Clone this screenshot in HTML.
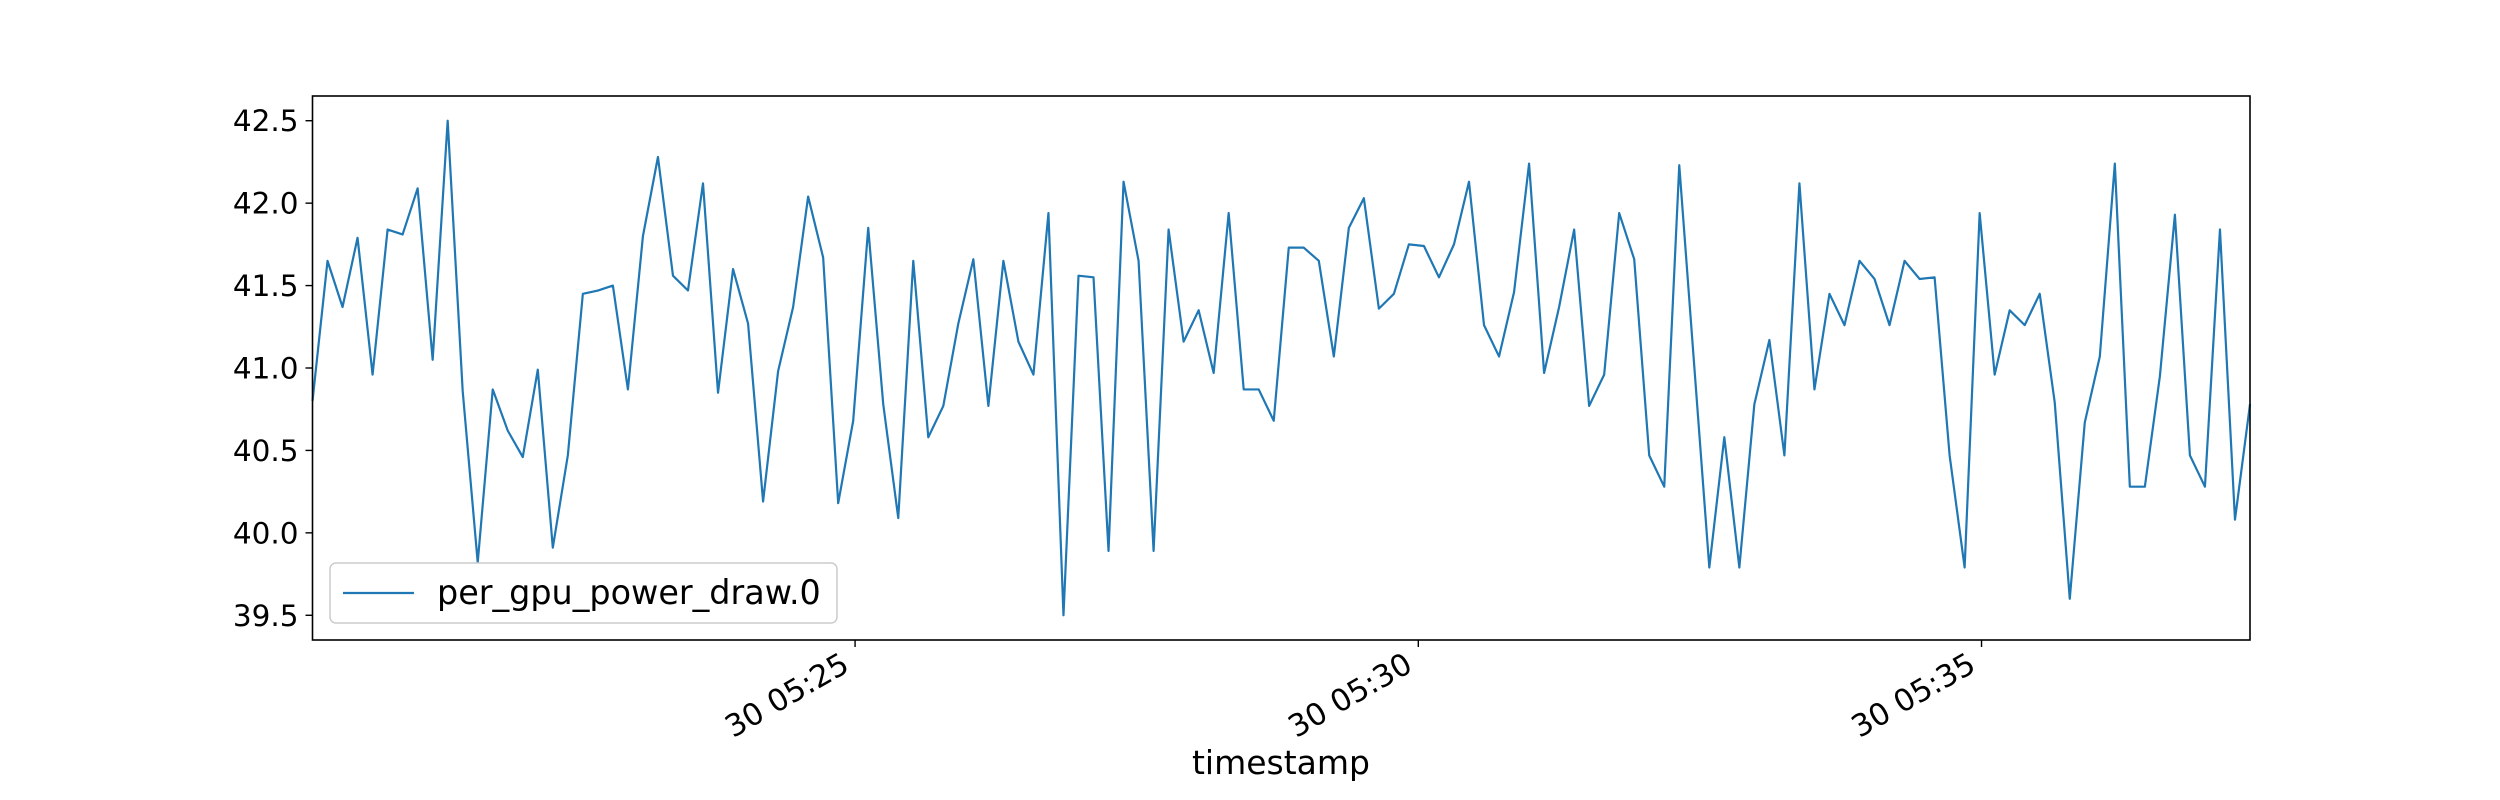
<!DOCTYPE html>
<html><head><meta charset="utf-8"><style>
html,body{margin:0;padding:0;background:#fff;}
svg{display:block;font-family:"DejaVu Sans","Liberation Sans",sans-serif;}
</style></head><body>
<svg id="chart" width="2500" height="800" viewBox="0 0 2500 800" xmlns="http://www.w3.org/2000/svg">
<rect x="0" y="0" width="2500" height="800" fill="#fff"/>
<polyline id="series" fill="none" stroke="#1f77b4" stroke-width="2.2" stroke-linejoin="round" points=""/>
<rect x="312.5" y="96" width="1937.5" height="544" fill="none" stroke="#000" stroke-width="1.6"/>
<g id="yaxis"></g>
<g id="xaxis"></g>
<text x="1281" y="774" font-size="33" text-anchor="middle" fill="#000">timestamp</text>
<g>
<rect x="330" y="563" width="507" height="60" rx="6" fill="#fff" fill-opacity="0.8" stroke="#ccc" stroke-width="1.5"/>
<line x1="343" y1="593" x2="414" y2="593" stroke="#1f77b4" stroke-width="2.2"/>
<text x="437" y="604" font-size="33.4" fill="#000">per_gpu_power_draw.0</text>
</g>
</svg>
<script>
const values = [40.80,41.65,41.37,41.79,40.96,41.84,41.81,42.09,41.05,42.50,
40.86,39.82,40.87,40.62,40.46,40.99,39.91,40.47,41.45,41.47,
41.50,40.87,41.80,42.28,41.56,41.47,42.12,40.85,41.60,41.27,
40.19,40.98,41.37,42.04,41.67,40.18,40.68,41.85,40.78,40.09,
41.65,40.58,40.77,41.27,41.66,40.77,41.65,41.16,40.96,41.94,
39.50,41.56,41.55,39.89,42.13,41.65,39.89,41.84,41.16,41.35,
40.97,41.94,40.87,40.87,40.68,41.73,41.73,41.65,41.07,41.85,
42.03,41.36,41.45,41.75,41.74,41.55,41.75,42.13,41.26,41.07,
41.46,42.24,40.97,41.37,41.84,40.77,40.96,41.94,41.66,40.47,
40.28,42.23,41.01,39.79,40.58,39.79,40.78,41.17,40.47,42.12,
40.87,41.45,41.26,41.65,41.54,41.26,41.65,41.54,41.55,40.47,
39.79,41.94,40.96,41.35,41.26,41.45,40.79,39.60,40.67,41.07,
42.24,40.28,40.28,40.95,41.93,40.47,40.28,41.84,40.08,40.78];
const startSeconds = 19211;   // 05:20:11
const stepSeconds = 8;
const xTickMinutes = [25, 30, 35];
const xTickLabels = ["30 05:25", "30 05:30", "30 05:35"];
const yTickValues = [39.5, 40.0, 40.5, 41.0, 41.5, 42.0, 42.5];
const yTickLabels = ["39.5", "40.0", "40.5", "41.0", "41.5", "42.0", "42.5"];

const L = 312.5, R = 2250, T = 96, B = 640;
const NS = "http://www.w3.org/2000/svg";
const times = values.map((v, i) => startSeconds + i * stepSeconds);
const tMin = times[0], tMax = times[times.length - 1];
const vMin = Math.min(...values), vMax = Math.max(...values);
const pad = (vMax - vMin) * 0.05;
const yLo = vMin - pad, yHi = vMax + pad;
function xs(t) { return L + (t - tMin) / (tMax - tMin) * (R - L); }
function ys(v) { return T + (yHi - v) / (yHi - yLo) * (B - T); }

document.getElementById('series').setAttribute('points',
  values.map((v, i) => xs(times[i]).toFixed(2) + ',' + ys(v).toFixed(2)).join(' '));

const ya = document.getElementById('yaxis');
yTickValues.forEach((v, i) => {
  if (v < yLo || v > yHi) return;
  const y = ys(v);
  const tk = document.createElementNS(NS, 'line');
  
  
  tk.setAttribute('x1', L - 7); tk.setAttribute('x2', L);
  tk.setAttribute('y1', y); tk.setAttribute('y2', y);
  tk.setAttribute('stroke', '#000'); tk.setAttribute('stroke-width', '1.4');
  ya.appendChild(tk);
  const tx = document.createElementNS(NS, 'text');
  
  
  tx.setAttribute('x', L - 14); tx.setAttribute('y', y + 10.5);
  tx.setAttribute('font-size', '29.5'); tx.setAttribute('text-anchor', 'end');
  tx.textContent = yTickLabels[i];
  ya.appendChild(tx);
});

const xa = document.getElementById('xaxis');
xTickMinutes.forEach((m, i) => {
  const t = 5 * 3600 + m * 60;
  if (t < tMin || t > tMax) return;
  const x = xs(t);
  const tk = document.createElementNS(NS, 'line');
  
  
  tk.setAttribute('x1', x); tk.setAttribute('x2', x);
  tk.setAttribute('y1', B); tk.setAttribute('y2', B + 7);
  tk.setAttribute('stroke', '#000'); tk.setAttribute('stroke-width', '1.4');
  xa.appendChild(tk);
  const tx = document.createElementNS(NS, 'text');
  
  
  tx.setAttribute('font-size', '30.5'); tx.setAttribute('text-anchor', 'end');
  tx.setAttribute('transform', 'translate(' + (x - 4) + ',' + (B + 30) + ') rotate(-30)');
  tx.textContent = xTickLabels[i];
  xa.appendChild(tx);
});
</script>
</body></html>
